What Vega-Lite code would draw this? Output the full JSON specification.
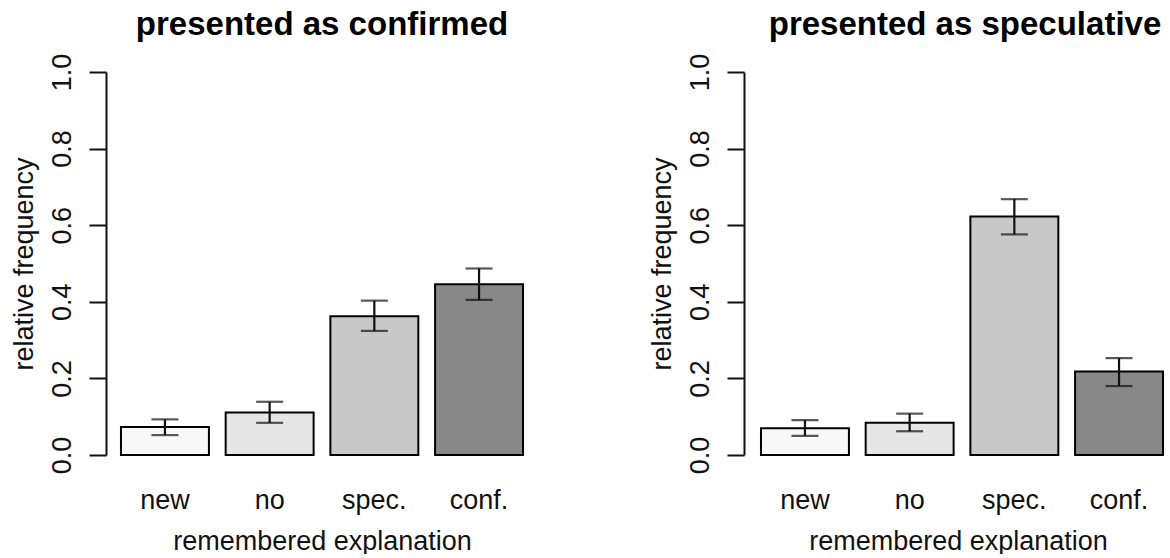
{
  "$schema": "https://vega.github.io/schema/vega-lite/v6.json",
  "padding": {"left": 10, "top": 9, "right": 0, "bottom": 0},
  "background": "white",
  "data": {"values": [
    {"panel": "confirmed", "cat": "new", "value": 0.073, "lo": 0.052, "hi": 0.093},
    {"panel": "confirmed", "cat": "no", "value": 0.111, "lo": 0.084, "hi": 0.139},
    {"panel": "confirmed", "cat": "spec.", "value": 0.362, "lo": 0.324, "hi": 0.403},
    {"panel": "confirmed", "cat": "conf.", "value": 0.446, "lo": 0.405, "hi": 0.487},
    {"panel": "speculative", "cat": "new", "value": 0.070, "lo": 0.050, "hi": 0.091},
    {"panel": "speculative", "cat": "no", "value": 0.084, "lo": 0.062, "hi": 0.108},
    {"panel": "speculative", "cat": "spec.", "value": 0.623, "lo": 0.576, "hi": 0.668},
    {"panel": "speculative", "cat": "conf.", "value": 0.218, "lo": 0.180, "hi": 0.253}
  ]},
  "spacing": 110,
  "hconcat": [
    {
      "title": {"text": "presented as confirmed"},
      "width": 432,
      "height": 383,
      "transform": [{"filter": "datum.panel === 'confirmed'"}],
      "encoding": {
        "x": {"field": "cat", "type": "nominal", "sort": ["new", "no", "spec.", "conf."],
              "scale": {"paddingInner": 0.16, "paddingOuter": 0.143},
              "axis": {"title": "remembered explanation"}}
      },
      "layer": [
        {"mark": {"type": "bar", "stroke": "black", "strokeWidth": 2},
         "encoding": {
           "y": {"field": "value", "type": "quantitative", "scale": {"domain": [0, 1]},
                 "axis": {"title": "relative frequency", "values": [0, 0.2, 0.4, 0.6, 0.8, 1.0], "format": ".1f"}},
           "fill": {"field": "cat", "type": "nominal", "scale": {"domain": ["new", "no", "spec.", "conf."], "range": ["#f8f8f8", "#e6e6e6", "#c8c8c8", "#888888"]}, "legend": null}
         }},
        {"mark": {"type": "rule", "color": "#111", "strokeWidth": 2.2},
         "encoding": {"y": {"field": "lo", "type": "quantitative"}, "y2": {"field": "hi"}}},
        {"mark": {"type": "tick", "color": "#111", "thickness": 2.2, "size": 27},
         "encoding": {"y": {"field": "lo", "type": "quantitative"}}},
        {"mark": {"type": "tick", "color": "#111", "thickness": 2.2, "size": 27},
         "encoding": {"y": {"field": "hi", "type": "quantitative"}}}
      ]
    },
    {
      "title": {"text": "presented as speculative", "dx": 7},
      "width": 428,
      "height": 383,
      "transform": [{"filter": "datum.panel === 'speculative'"}],
      "encoding": {
        "x": {"field": "cat", "type": "nominal", "sort": ["new", "no", "spec.", "conf."],
              "scale": {"paddingInner": 0.16, "paddingOuter": 0.124, "align": 0.654},
              "axis": {"title": "remembered explanation"}}
      },
      "layer": [
        {"mark": {"type": "bar", "stroke": "black", "strokeWidth": 2},
         "encoding": {
           "y": {"field": "value", "type": "quantitative", "scale": {"domain": [0, 1]},
                 "axis": {"title": "relative frequency", "values": [0, 0.2, 0.4, 0.6, 0.8, 1.0], "format": ".1f"}},
           "fill": {"field": "cat", "type": "nominal", "scale": {"domain": ["new", "no", "spec.", "conf."], "range": ["#f8f8f8", "#e6e6e6", "#c8c8c8", "#888888"]}, "legend": null}
         }},
        {"mark": {"type": "rule", "color": "#111", "strokeWidth": 2.2},
         "encoding": {"y": {"field": "lo", "type": "quantitative"}, "y2": {"field": "hi"}}},
        {"mark": {"type": "tick", "color": "#111", "thickness": 2.2, "size": 27},
         "encoding": {"y": {"field": "lo", "type": "quantitative"}}},
        {"mark": {"type": "tick", "color": "#111", "thickness": 2.2, "size": 27},
         "encoding": {"y": {"field": "hi", "type": "quantitative"}}}
      ]
    }
  ],
  "config": {
    "font": "Liberation Sans",
    "view": {"stroke": null},
    "title": {"fontSize": 33, "fontWeight": "bold", "color": "#000", "anchor": "middle", "offset": 11},
    "axisY": {
      "grid": false,
      "labelAngle": -90, "labelAlign": "center", "labelBaseline": "alphabetic",
      "labelFontSize": 27, "labelColor": "#111", "labelPadding": 19,
      "tickSize": 17, "tickWidth": 2, "tickColor": "#111",
      "domainWidth": 2, "domainColor": "#111",
      "titleFontSize": 27, "titleFontWeight": "normal", "titleColor": "#111", "titlePadding": 10
    },
    "axisX": {
      "domain": false, "ticks": false, "tickSize": 0, "labelAngle": 0,
      "labelFontSize": 27, "labelColor": "#111", "labelPadding": 32,
      "titleFontSize": 27, "titleFontWeight": "normal", "titleColor": "#111", "titlePadding": 15
    }
  }
}
